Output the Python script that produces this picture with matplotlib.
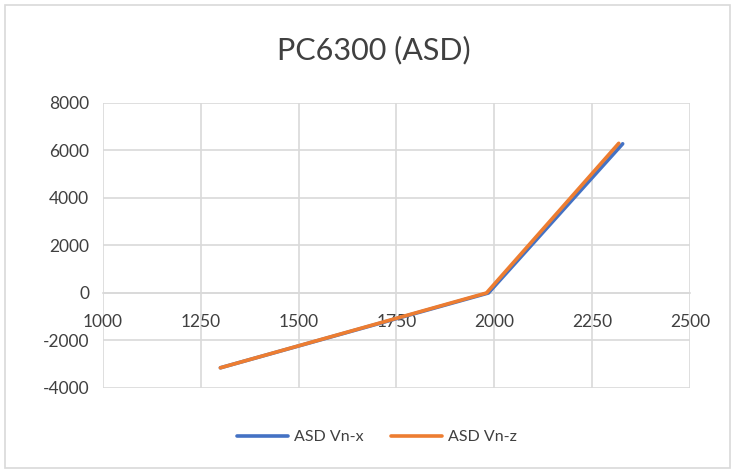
import matplotlib
matplotlib.use("Agg")
import matplotlib.pyplot as plt
from matplotlib.patches import Rectangle

title = "PC6300 (ASD)"
series_names = ["ASD Vn-x", "ASD Vn-z"]
x_vnx = [1300, 1985, 2328]
y_vnx = [-3150, 0, 6280]
x_vnz = [1300, 1980, 2318]
y_vnz = [-3150, 0, 6300]
colors = ["#4472C4", "#ED7D31"]
xticks = [1000, 1250, 1500, 1750, 2000, 2250, 2500]
yticks = [-4000, -2000, 0, 2000, 4000, 6000, 8000]

plt.rcParams['font.family'] = ['Lato', 'DejaVu Sans']
plt.rcParams['axes.unicode_minus'] = False
fig = plt.figure(figsize=(7.32, 4.70), dpi=100)
fig.patches.append(Rectangle((0.007, 0.004), 0.99, 0.985, transform=fig.transFigure,
                             fill=False, edgecolor="#D9D9D9", linewidth=1.2))
ax = fig.add_axes([0.1407, 0.1745, 0.8019, 0.6065])
grid_c = "#D9D9D9"
ax.plot(x_vnx, y_vnx, color=colors[0], lw=2.6, label=series_names[0], solid_capstyle='round', zorder=3)
ax.plot(x_vnz, y_vnz, color=colors[1], lw=2.6, label=series_names[1], solid_capstyle='round', zorder=4)
ax.set_xlim(1000, 2500)
ax.set_ylim(-4000, 8000)
ax.set_xticks(xticks)
ax.set_yticks(yticks)
ax.grid(True, color=grid_c, lw=1.2)
ax.set_axisbelow(True)
for s in ['top', 'right', 'left']:
    ax.spines[s].set_visible(False)
ax.spines['bottom'].set_position(('data', 0))
ax.spines['bottom'].set_color(grid_c)
ax.spines['bottom'].set_linewidth(1.2)
ax.tick_params(axis='both', length=0, labelsize=12.5, labelcolor="#404040")
ax.tick_params(axis='x', pad=15)
ax.tick_params(axis='y', pad=10)
fig.text(0.51, 0.893, title, fontsize=22, color="#404040", ha='center', va='center')
fig.legend(loc='center', bbox_to_anchor=(0.515, 0.07), ncol=2, frameon=False,
           fontsize=11.5, handlelength=3.2, columnspacing=1.7, labelcolor="#404040",
           handletextpad=0.4)
fig.savefig("out.png", dpi=100)
